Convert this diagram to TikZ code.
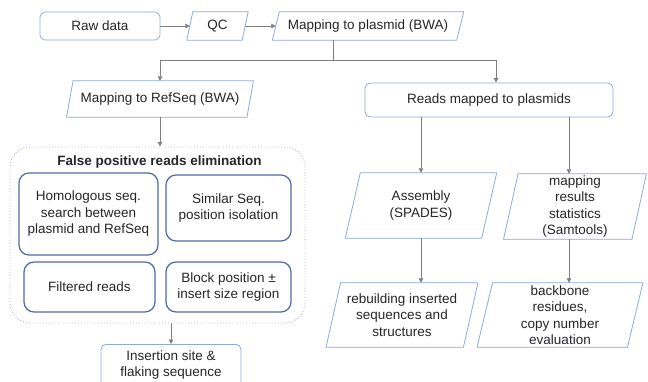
\documentclass[tikz,border=0pt]{standalone}
\usepackage{fontspec}
\setmainfont{Liberation Sans}
\usetikzlibrary{calc,arrows.meta}
\definecolor{lb}{HTML}{8EAADB}
\definecolor{db}{HTML}{4F6AA3}
\definecolor{ag}{HTML}{808080}
\definecolor{dotc}{HTML}{A7B6D6}
\begin{document}
\begin{tikzpicture}[x=1pt,y=-1pt,
  every node/.style={font=\fontsize{13.5}{16.5}\selectfont, align=center, inner sep=0pt, text=black!85},
  rbox/.style={draw=lb, line width=0.8pt, rounded corners=5pt},
  ibox/.style={draw=db, line width=1.2pt, rounded corners=10pt},
  pbox/.style={},
  pline/.style={draw=lb, line width=0.8pt},
  arr/.style={draw=ag, line width=0.8pt, -{Triangle[width=4.5pt,length=4.5pt]}},
  conn/.style={draw=ag, line width=0.8pt}]
\clip (0,0) rectangle (648,382);
\fill[white] (0,0) rectangle (648,382);
% top row
\node[rbox, minimum width=120pt, minimum height=28pt] (raw) at (100,26) {Raw data};
\node[pbox, minimum width=55pt, minimum height=28pt] (qc) at (217.5,26) {QC};
\node[pbox, minimum width=184pt, minimum height=28pt] (map1) at (368,26) {Mapping to plasmid (BWA)};
% second row
\node[pbox, minimum width=180pt, minimum height=36pt] (refseq) at (160,99) {Mapping to RefSeq (BWA)};
\node[rbox, minimum width=248pt, minimum height=34pt] (reads) at (489,100) {Reads mapped to plasmids};
% false positive box
\node[draw=dotc, dotted, line width=0.9pt, rounded corners=20pt, minimum width=295pt, minimum height=176pt] (fp) at (157.5,235) {};
\node[font=\fontsize{13.5}{16.5}\selectfont\bfseries] (fptitle) at (159.5,162) {False positive reads elimination};
\node[ibox, minimum width=139pt, minimum height=82pt] (homo) at (88.5,214) {Homologous seq.\\search between\\plasmid and RefSeq};
\node[ibox, minimum width=125pt, minimum height=66pt] (sim) at (228.5,208) {Similar Seq.\\position isolation};
\node[ibox, minimum width=131pt, minimum height=50pt] (filt) at (89.5,287) {Filtered reads};
\node[ibox, minimum width=125pt, minimum height=50pt] (block) at (228.5,287) {Block position ±\\insert size region};
\node[rbox, minimum width=140pt, minimum height=50pt, anchor=north] (ins) at (171,344) {};
\node (instext) at (171,365) {Insertion site \&\\flaking sequence};
% right side
\node[pbox, minimum width=136pt, minimum height=65pt] (asm) at (421,205.5) {Assembly\\(SPADES)};
\node[pbox, minimum width=128pt, minimum height=65pt] (stats) at (575,206.5) {mapping\\results\\statistics\\(Samtools)};
\node[pbox, minimum width=137pt, minimum height=64pt] (rebuild) at (402,315) {rebuilding inserted\\sequences and\\structures};
\node[pbox, minimum width=150pt, minimum height=64pt] (backbone) at (560,315) {backbone\\residues,\\copy number\\evaluation};
% parallelograms
\foreach \n/\s in {qc/6, map1/7, refseq/6.5, asm/15, stats/14.5, rebuild/14.5, backbone/15.5}
  \draw[pline] ($(\n.north west)+(\s/2,0)$) -- ($(\n.north east)+(\s/2,0)$) -- ($(\n.south east)+(-\s/2,0)$) -- ($(\n.south west)+(-\s/2,0)$) -- cycle;
% connectors
\draw[arr] (raw) -- (qc);
\draw[arr] (qc) -- (map1);
\coordinate (j1) at (333,60);
\draw[conn] (map1.south -| j1) -- (j1);
\draw[arr] (j1) -| (refseq.north);
\draw[arr] (j1) -| ($(reads.north)+(7,0)$);
\draw[arr] (refseq.south) -- (refseq.south |- fp.north);
\draw[arr] (ins.north |- fp.south) -- (ins.north);
\draw[arr] (reads.south -| asm.north) -- (asm.north);
\draw[arr] ($(reads.south -| stats.north)+(-6,0)$) -- ($(stats.north)+(-6,0)$);
\draw[arr] (asm.south) -- (asm.south |- rebuild.north);
\draw[arr] ($(stats.south)+(-6,0)$) -- ($(stats.south |- backbone.north)+(-6,0)$);
\end{tikzpicture}
\end{document}
